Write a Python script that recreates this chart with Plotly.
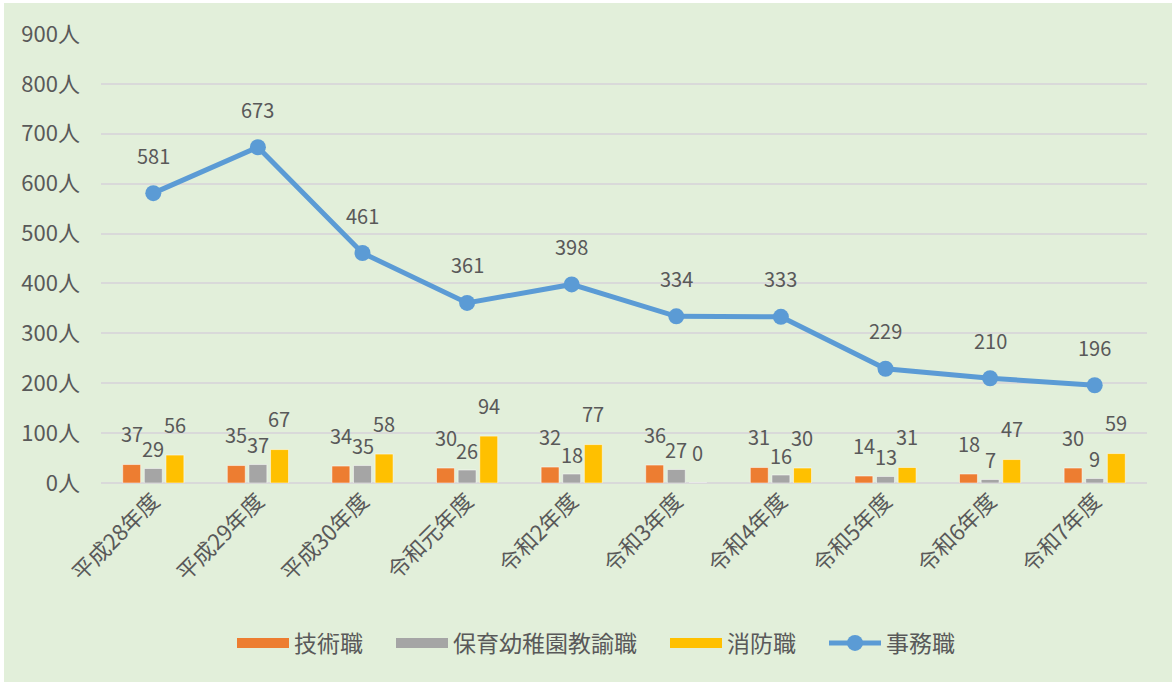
import plotly.graph_objects as go

categories = ["平成28年度", "平成29年度", "平成30年度", "令和元年度", "令和2年度",
              "令和3年度", "令和4年度", "令和5年度", "令和6年度", "令和7年度"]
gijutsu = [37, 35, 34, 30, 32, 36, 31, 14, 18, 30]
hoiku = [29, 37, 35, 26, 18, 27, 16, 13, 7, 9]
shobo = [56, 67, 58, 94, 77, 0, 30, 31, 47, 59]
jimu = [581, 673, 461, 361, 398, 334, 333, 229, 210, 196]
y_ticks = [0, 100, 200, 300, 400, 500, 600, 700, 800, 900]
y_tick_text = [f"{v}人" for v in y_ticks]

FONT = "Noto Sans CJK JP"
TXT = "#595959"
C_OR, C_GR, C_YE, C_BL = "#ED7D31", "#A5A5A5", "#FFC000", "#5B9BD5"
EDGE = dict(color="rgba(255,255,255,0.5)", width=1)

fig = go.Figure()
for name, vals, col in [("技術職", gijutsu, C_OR), ("保育幼稚園教諭職", hoiku, C_GR), ("消防職", shobo, C_YE)]:
    fig.add_bar(name=name, x=categories, y=vals, marker=dict(color=col, line=EDGE),
                showlegend=False, legendgroup=name)
fig.add_scatter(name="事務職", x=categories, y=jimu, mode="lines+markers",
                line=dict(color=C_BL, width=5), marker=dict(color=C_BL, size=16), showlegend=False)

# legend entries (wide swatches like the original)
for name, col in [("技術職", C_OR), ("保育幼稚園教諭職", C_GR), ("消防職", C_YE)]:
    fig.add_scatter(name=name + "\u3000", x=[None], y=[None], mode="lines", line=dict(color=col, width=12),
                    legendgroup=name, showlegend=True)
fig.add_scatter(name="事務職", x=[None], y=[None], mode="lines+markers",
                line=dict(color=C_BL, width=5), marker=dict(color=C_BL, size=16), showlegend=True)

# data labels
cat_w = 104.5
bar_slot = cat_w * 0.62 / 3
ann = []
for series, dx, dy in [(gijutsu, -bar_slot, 31), (hoiku, 0, 20), (shobo, bar_slot, 31)]:
    for c, v in zip(categories, series):
        ann.append(dict(x=c, y=v, text=str(v), showarrow=False, xshift=dx, yshift=dy,
                        font=dict(family=FONT, size=20, color=TXT)))
for c, v in zip(categories, jimu):
    ann.append(dict(x=c, y=v, text=str(v), showarrow=False, yshift=38,
                    font=dict(family=FONT, size=20, color=TXT)))

# plot geometry: l=101, r=25 (width 1046), t=34, b=199 (height 449)
L, R, T, B = 101, 25, 34, 199
W, H = 1172 - L - R, 682 - T - B
def px(x):
    return (x - L) / W
def py(y):
    return (682 - B - y) / H

fig.update_layout(
    width=1172, height=682,
    margin=dict(l=L, r=R, t=T, b=B, autoexpand=False),
    paper_bgcolor="white",
    plot_bgcolor="rgba(0,0,0,0)",
    font=dict(family=FONT, size=20, color=TXT),
    barmode="group", bargap=0.38, bargroupgap=0.17,
    showlegend=True,
    legend=dict(orientation="h", x=px(596), xanchor="center", y=py(643), yanchor="middle",
                font=dict(family=FONT, size=23, color=TXT), bgcolor="rgba(0,0,0,0)",
                itemwidth=52, traceorder="normal", tracegroupgap=0),
    annotations=ann,
    shapes=[dict(type="rect", xref="paper", yref="paper", x0=px(4), x1=px(1172), y0=py(682), y1=py(3),
                 fillcolor="#E2EFDA", line=dict(width=0), layer="below")],
    xaxis=dict(range=[-0.5, len(categories) - 0.5], tickangle=-45,
               tickfont=dict(family=FONT, size=22, color=TXT), showgrid=False,
               showline=False, ticks="", zeroline=False, automargin=False),
    yaxis=dict(range=[0, 900], tickvals=y_ticks, ticktext=y_tick_text, showgrid=True, gridcolor="#D9D9D9",
               gridwidth=1.5, zeroline=True, zerolinecolor="#D9D9D9", zerolinewidth=1.5,
               tickfont=dict(family=FONT, size=22, color=TXT), showline=False, ticks="",
               ticklabelstandoff=20, automargin=False),
)
fig.write_html("out.html", config={"displayModeBar": False},
               post_script="document.body.style.margin='0';document.body.style.overflow='hidden';")
